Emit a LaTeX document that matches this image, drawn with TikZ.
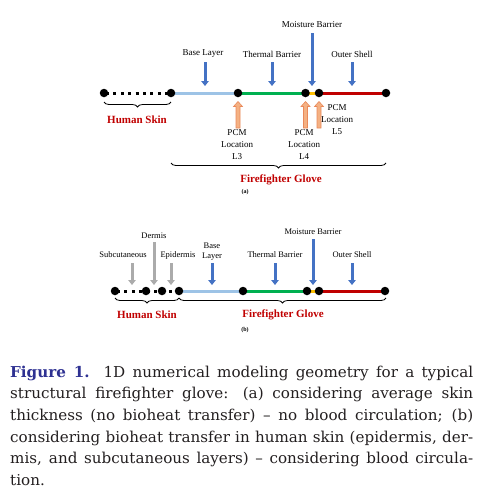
\documentclass[tikz,border=0pt]{standalone}
\usepackage{fontspec}
\setmainfont{Liberation Serif}
\newfontfamily\capfont[FakeStretch=1.01]{DejaVu Serif}
\usetikzlibrary{arrows.meta,decorations.pathreplacing}
\definecolor{lblue}{HTML}{9DC3E6}
\definecolor{lgreen}{HTML}{00B050}
\definecolor{lorange}{HTML}{FFC000}
\definecolor{lred}{HTML}{C00000}
\definecolor{arrblue}{HTML}{4472C4}
\definecolor{pcmfill}{HTML}{F4B183}
\definecolor{pcmdraw}{HTML}{E9895A}
\definecolor{skingray}{HTML}{ABABAB}
\definecolor{txtred}{HTML}{C00000}
\definecolor{capblue}{HTML}{2E3192}
\definecolor{captext}{HTML}{231F20}
\newcommand\pcmArrow[3]{\filldraw[pcm] ({#1-2},#3) -- ({#1-2},{#2+5}) -- ({#1-4.5},{#2+5}) -- (#1,#2) -- ({#1+4.5},{#2+5}) -- ({#1+2},{#2+5}) -- ({#1+2},#3) -- cycle;}
\begin{document}
\begin{tikzpicture}[x=1pt,y=-1pt,
  seg/.style={line width=3pt},
  skindash/.style={line width=3pt,dash pattern=on 3pt off 4.4pt,dash phase=-2pt},
  dot/.style={circle,fill=black,inner sep=0pt,minimum size=8.5pt},
  lbl/.style={font=\fontsize{9}{12}\selectfont,inner sep=0pt,align=center},
  lblb/.style={font=\fontsize{8.5}{10}\selectfont,inner sep=0pt,align=center},
  blk/.style={-{Triangle[width=7.5pt,length=5pt]},line width=3pt,arrblue},
  gry/.style={-{Triangle[width=7.5pt,length=5pt]},line width=3pt,skingray},
  pcm/.style={fill=pcmfill,draw=pcmdraw,line width=0.6pt},
  brc/.style={decorate,decoration={brace,mirror,amplitude=5pt},line width=0.8pt},
  redlbl/.style={font=\fontsize{11}{13}\selectfont\bfseries,text=txtred,inner sep=0pt},
  sublbl/.style={font=\fontsize{6}{7}\selectfont\bfseries,inner sep=0pt},
  capline/.style={font=\capfont\fontsize{15}{18}\selectfont,text=captext,inner sep=0pt,anchor=base west}
]
\useasboundingbox (0,0) rectangle (497,488);

% ---------------- (a) ----------------
\coordinate (a1) at (104,93);
\coordinate (a2) at (171,93);
\coordinate (a3) at (238,93);
\coordinate (a4) at (305.5,93);
\coordinate (a5) at (319,93);
\coordinate (a6) at (386,93);
\draw[skindash] (a1) -- (a2);
\draw[seg,lblue] (a2) -- (a3);
\draw[seg,lgreen] (a3) -- (a4);
\draw[seg,lorange] (a4) -- (a5);
\draw[seg,lred] (a5) -- (a6);
\foreach \p in {a1,a2,a3,a4,a5,a6} \node[dot] (d\p) at (\p) {};

\node[lbl] (laBase) at (203,54) {Base Layer};
\node[lbl] (laTherm) at (272,54) {Thermal Barrier};
\node[lbl] (laMoist) at (312,25) {Moisture Barrier};
\node[lbl] (laOuter) at (352,54) {Outer Shell};
\coordinate (saBase) at (205,62);  \coordinate (taBase) at (205,86);
\coordinate (saTherm) at (272,62); \coordinate (taTherm) at (272,86);
\coordinate (saMoist) at (312,33); \coordinate (taMoist) at (312,86);
\coordinate (saOuter) at (352,62); \coordinate (taOuter) at (352,86);
\draw[blk] (saBase) -- (taBase);
\draw[blk] (saTherm) -- (taTherm);
\draw[blk] (saMoist) -- (taMoist);
\draw[blk] (saOuter) -- (taOuter);

\pcmArrow{238}{101.5}{128}
\pcmArrow{305.5}{101.5}{128}
\pcmArrow{319}{101.5}{128}
\node[lbl] (pcm3) at (237,145) {PCM\\Location\\L3};
\node[lbl] (pcm4) at (304,145) {PCM\\Location\\L4};
\node[lbl] (pcm5) at (337,120) {PCM\\Location\\L5};

\coordinate (bsa1) at (104,102); \coordinate (bsa2) at (171,102);
\draw[brc] (bsa1) -- (bsa2);
\node[redlbl] (hsa) at (137,120) {Human Skin};
\coordinate (bga1) at (171,163); \coordinate (bga2) at (386,163);
\draw[brc] (bga1) -- (bga2);
\node[redlbl] (fga) at (281,180) {Firefighter Glove};
\node[sublbl] (capa) at (245,192) {(a)};

% ---------------- (b) ----------------
\coordinate (b1) at (115,291);
\coordinate (b2) at (146,291);
\coordinate (b3) at (162,291);
\coordinate (b4) at (179,291);
\coordinate (b5) at (243,291);
\coordinate (b6) at (307,291);
\coordinate (b7) at (319,291);
\coordinate (b8) at (385,291);
\draw[skindash] (b1) -- (b4);
\draw[seg,lblue] (b4) -- (b5);
\draw[seg,lgreen] (b5) -- (b6);
\draw[seg,lorange] (b6) -- (b7);
\draw[seg,lred] (b7) -- (b8);
\foreach \p in {b1,b2,b3,b4,b5,b6,b7,b8} \node[dot] (d\p) at (\p) {};

\node[lblb] (lbSub) at (123,255) {Subcutaneous};
\node[lblb] (lbDerm) at (154,236) {Dermis};
\node[lblb] (lbEpi) at (178,255) {Epidermis};
\node[lblb] (lbBase) at (212,252) {Base\\Layer};
\node[lblb] (lbTherm) at (275,255) {Thermal Barrier};
\node[lblb] (lbMoist) at (313,232) {Moisture Barrier};
\node[lblb] (lbOuter) at (352,255) {Outer Shell};
\coordinate (sbSub) at (132,263);  \coordinate (tbSub) at (132,285);
\coordinate (sbDerm) at (154,242); \coordinate (tbDerm) at (154,285);
\coordinate (sbEpi) at (171,263);  \coordinate (tbEpi) at (171,285);
\coordinate (sbBase) at (212,263); \coordinate (tbBase) at (212,285);
\coordinate (sbTherm) at (275,263); \coordinate (tbTherm) at (275,285);
\coordinate (sbMoist) at (313,239); \coordinate (tbMoist) at (313,285);
\coordinate (sbOuter) at (352,263); \coordinate (tbOuter) at (352,285);
\draw[gry] (sbSub) -- (tbSub);
\draw[gry] (sbDerm) -- (tbDerm);
\draw[gry] (sbEpi) -- (tbEpi);
\draw[blk] (sbBase) -- (tbBase);
\draw[blk] (sbTherm) -- (tbTherm);
\draw[blk] (sbMoist) -- (tbMoist);
\draw[blk] (sbOuter) -- (tbOuter);

\coordinate (bsb1) at (115,298); \coordinate (bsb2) at (179,298);
\draw[brc] (bsb1) -- (bsb2);
\node[redlbl] (hsb) at (147,315) {Human Skin};
\coordinate (bgb1) at (179,298); \coordinate (bgb2) at (386,298);
\draw[brc] (bgb1) -- (bgb2);
\node[redlbl] (fgb) at (283,315) {Firefighter Glove};
\node[sublbl] (capb) at (245,330) {(b)};

% ---------------- caption ----------------
\node[capline] (c1) at (10,377) {\makebox[463pt][s]{{\bfseries\color{capblue}Figure 1.} 1D numerical modeling geometry for a typical}};
\node[capline] (c2) at (10,398.7) {\makebox[463pt][s]{structural firefighter glove: (a) considering average skin}};
\node[capline] (c3) at (10,420.4) {\makebox[463pt][s]{thickness (no bioheat transfer) – no blood circulation; (b)}};
\node[capline] (c4) at (10,442.1) {\makebox[463pt][s]{considering bioheat transfer in human skin (epidermis, der-}};
\node[capline] (c5) at (10,463.8) {\makebox[463pt][s]{mis, and subcutaneous layers) – considering blood circula-}};
\node[capline] (c6) at (10,485.5) {tion.};
\end{tikzpicture}
\end{document}
